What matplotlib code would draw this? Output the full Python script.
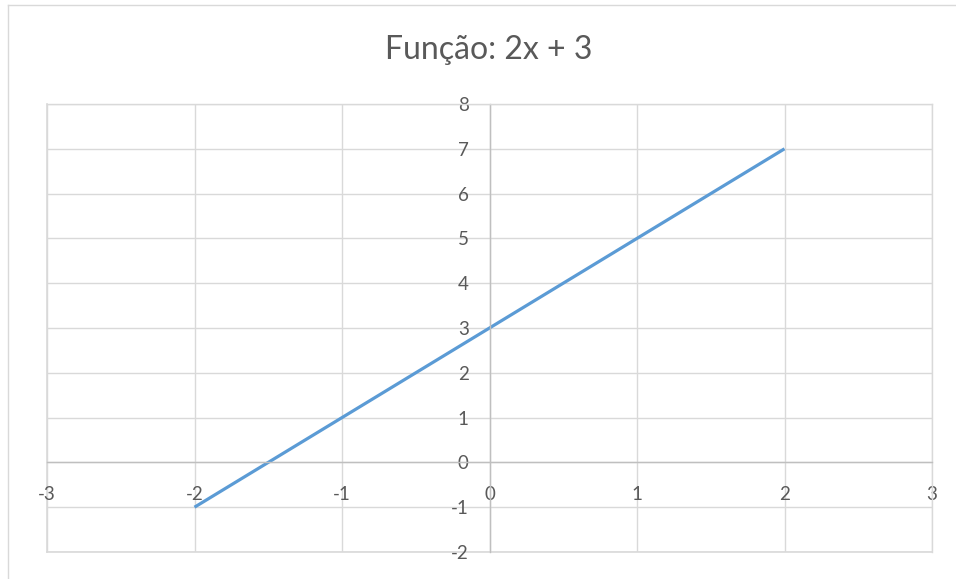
import matplotlib.pyplot as plt
from matplotlib.lines import Line2D

x_vals = [-2, -1, 0, 1, 2]
y_vals = [-1, 1, 3, 5, 7]
x_ticks = [-3, -2, -1, 0, 1, 2, 3]
y_ticks = [-2, -1, 0, 1, 2, 3, 4, 5, 6, 7, 8]
title = "Função: 2x + 3"

plt.rcParams['font.family'] = ['Lato', 'DejaVu Sans']
plt.rcParams['axes.unicode_minus'] = False
txt = "#595959"
grid_c = "#d9d9d9"
axis_c = "#bfbfbf"

fig = plt.figure(figsize=(9.56, 5.79), dpi=100)
ax = fig.add_axes([47/956, 1-552/579, (932-47)/956, (552-104)/579])

ax.plot(x_vals, y_vals, color="#5b9bd5", linewidth=2.3, solid_capstyle="butt")

ax.set_xlim(-3, 3)
ax.set_ylim(-2, 8)
ax.set_xticks(x_ticks)
ax.set_yticks(y_ticks)
ax.grid(True, color=grid_c, linewidth=1)
for gl in ax.get_xgridlines() + ax.get_ygridlines():
    gl.set_clip_on(False)
ax.set_axisbelow(True)
# plot area box edges (bottom/left spines are moved to zero)
ax.axhline(-2, color=grid_c, linewidth=1.2, clip_on=False, zorder=0.5)
ax.axvline(-3, color=grid_c, linewidth=1.2, clip_on=False, zorder=0.5)

ax.spines['left'].set_position(('data', 0))
ax.spines['bottom'].set_position(('data', 0))
ax.spines['left'].set_color(axis_c)
ax.spines['bottom'].set_color(axis_c)
ax.spines['top'].set_color(grid_c)
ax.spines['right'].set_color(grid_c)
for s in ax.spines.values():
    s.set_linewidth(1)

ax.tick_params(axis='both', length=0, labelsize=13.5, labelcolor=txt)
ax.tick_params(axis='x', pad=17)
ax.tick_params(axis='y', pad=15)

fig.text(0.511, 1-50/579, title, ha='center', va='center', fontsize=23, color=txt)

# outer chart border (only top and left visible)
fig.add_artist(Line2D([7.5/956, 1], [1-5/579, 1-5/579], color=grid_c, linewidth=1))
fig.add_artist(Line2D([7.5/956, 7.5/956], [0, 1-5/579], color=grid_c, linewidth=1))

fig.savefig("out.png", dpi=100)
